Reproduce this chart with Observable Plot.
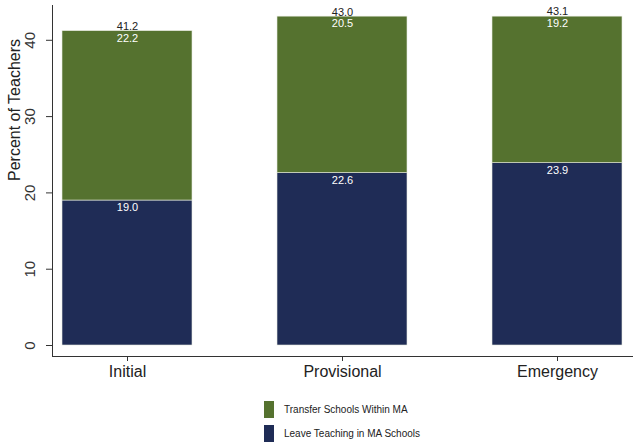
<!DOCTYPE html>
<html>
<head>
<meta charset="utf-8">
<script src="https://cdn.jsdelivr.net/npm/d3@7"></script>
<script src="https://cdn.jsdelivr.net/npm/@observablehq/plot@0.6"></script>
<style>
  body { margin: 0; background: #fff; font-family: "Liberation Sans", Arial, sans-serif; }
  #legend { margin-top: 11px; padding-left: 264px; }
  .row { height: 24px; display: flex; align-items: center; font-size: 10px; color: #222; }
  .sw { width: 10px; height: 17px; margin-right: 10px; }
</style>
</head>
<body>
<div id="chart"></div>
<div id="legend"></div>
<script>
const categories = ["Initial", "Provisional", "Emergency"];
const leaveTeaching = [19.0, 22.6, 23.9];
const transferSchools = [22.2, 20.5, 19.2];
const totals = [41.2, 43.0, 43.1];
const seriesNames = ["Leave Teaching in MA Schools", "Transfer Schools Within MA"];
const seriesColors = ["#1f2c56", "#55722f"];
const yTicks = [0, 10, 20, 30, 40];

const rows = [];
categories.forEach((c, i) => {
  rows.push({cat: c, series: seriesNames[0], value: leaveTeaching[i]});
  rows.push({cat: c, series: seriesNames[1], value: transferSchools[i]});
});
const totalRows = categories.map((c, i) => ({cat: c, total: totals[i]}));

const chart = Plot.plot({
  width: 638,
  height: 386,
  marginLeft: 52,
  marginRight: 6,
  marginTop: 5,
  marginBottom: 30,
  style: {fontFamily: "Liberation Sans, Arial, sans-serif", background: "white"},
  x: {domain: categories, paddingInner: 0.397, paddingOuter: 0.044, label: null},
  y: {domain: [-1.44, 44.56], label: null},
  color: {domain: seriesNames, range: seriesColors},
  marks: [
    Plot.barY(rows, {x: "cat", y: "value", fill: "series", stroke: "#e8ece0", strokeWidth: 0.6}),
    Plot.text(rows, Plot.stackY2({x: "cat", y: "value", text: d => d.value.toFixed(1), fill: "white", dy: 7, fontSize: 11})),
    Plot.text(totalRows, {x: "cat", y: "total", text: d => d.total.toFixed(1), fill: "#222", dy: -5, fontSize: 11}),
    Plot.axisY({ticks: yTicks, tickSize: 6, tickRotate: -90, fontSize: 15, tickPadding: 12, label: null, stroke: "#333", color: "#333"}),
    Plot.axisX({tickSize: 5, fontSize: 16, tickPadding: 4, label: null, stroke: "#333", color: "#222"}),
    Plot.frame({anchor: "left", stroke: "#333"}),
    Plot.frame({anchor: "bottom", stroke: "#333"}),
    Plot.text(["Percent of Teachers"], {frameAnchor: "left", dx: -38, rotate: -90, fontSize: 16, fill: "#222"})
  ]
});
document.getElementById("chart").appendChild(chart);

const legend = document.getElementById("legend");
[1, 0].forEach(i => {
  const row = document.createElement("div");
  row.className = "row";
  const sw = document.createElement("div");
  sw.className = "sw";
  sw.style.background = seriesColors[i];
  const t = document.createElement("span");
  t.textContent = seriesNames[i];
  row.appendChild(sw);
  row.appendChild(t);
  legend.appendChild(row);
});
</script>
</body>
</html>
